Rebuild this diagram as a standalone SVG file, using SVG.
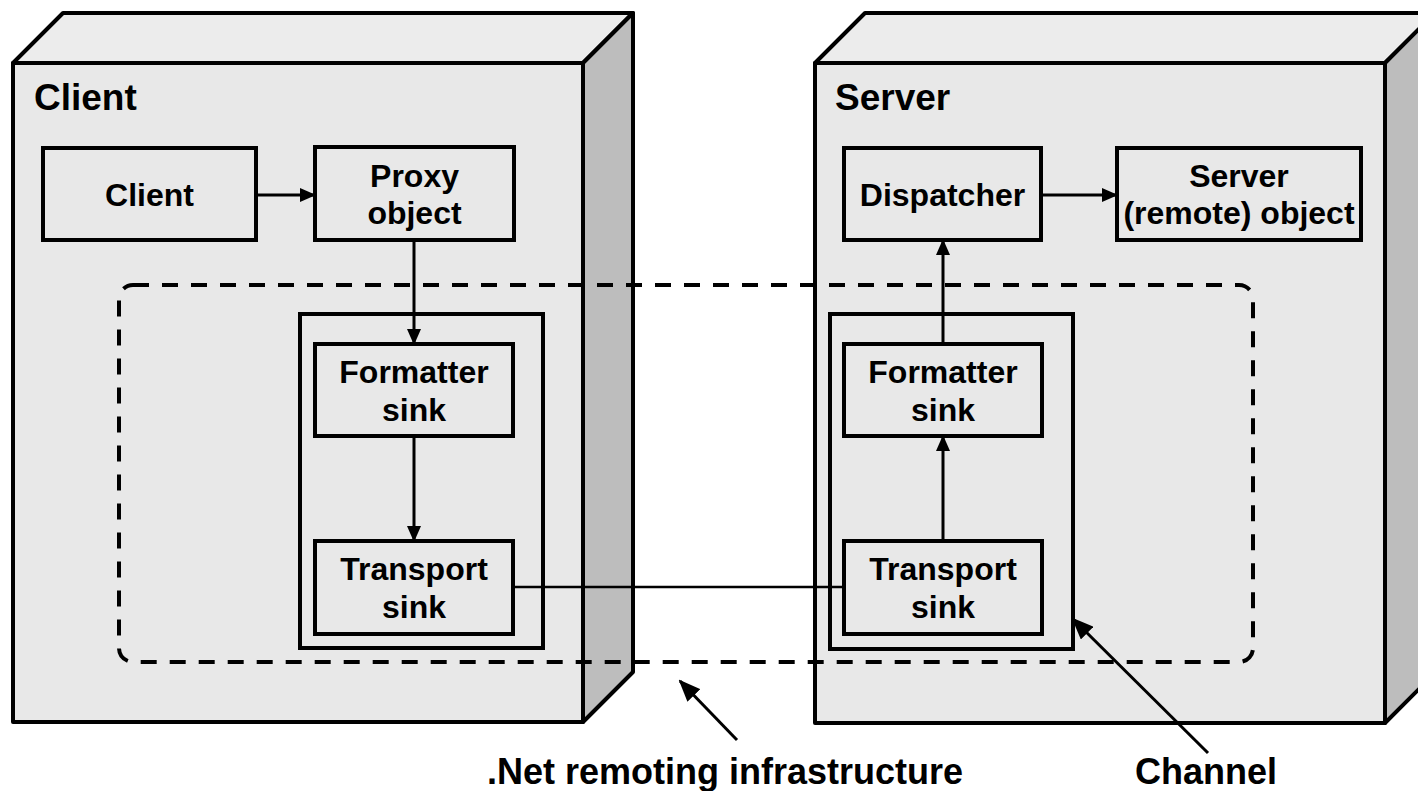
<svg xmlns="http://www.w3.org/2000/svg" width="1418" height="791" viewBox="0 0 1418 791">
<style>
.front{fill:#e8e8e8;stroke:#000;stroke-width:4;stroke-linejoin:round}
.top{fill:#ececec;stroke:#000;stroke-width:4;stroke-linejoin:round}
.side{fill:#bdbdbd;stroke:#000;stroke-width:4;stroke-linejoin:round}
.node{fill:#e8e8e8;stroke:#000;stroke-width:4}
.chan{fill:none;stroke:#000;stroke-width:4}
.t{font-family:"Liberation Sans",Arial,sans-serif;font-weight:bold;font-size:32px;fill:#000;text-anchor:middle}
.h{font-family:"Liberation Sans",Arial,sans-serif;font-weight:bold;font-size:37px;fill:#000}
.lbl{font-family:"Liberation Sans",Arial,sans-serif;font-weight:bold;font-size:36px;fill:#000;text-anchor:middle}
.c{stroke:#000;stroke-width:3;fill:none}
</style>
<defs>
<marker id="ah" markerWidth="16" markerHeight="14" refX="15" refY="7" orient="auto" markerUnits="userSpaceOnUse">
<path d="M0,0 L16,7 L0,14 Z" fill="#000"/>
</marker>
<marker id="ah2" markerWidth="22" markerHeight="18" refX="20" refY="9" orient="auto" markerUnits="userSpaceOnUse">
<path d="M0,0 L22,9 L0,18 Z" fill="#000"/>
</marker>
</defs>
<rect width="1418" height="791" fill="#fff"/>
<g id="client-host">
<polygon class="top" points="13,63 63,13 633,13 583,63"/>
<polygon class="side" points="583,63 633,13 633,672 583,722"/>
<rect class="front" x="13" y="63" width="570" height="659"/>
<text class="h" x="34" y="110">Client</text>
</g>
<g id="server-host">
<polygon class="top" points="815,63 865,13 1435,13 1385,63"/>
<polygon class="side" points="1385,63 1435,13 1435,673 1385,723"/>
<rect class="front" x="815" y="63" width="570" height="660"/>
<text class="h" x="835" y="110">Server</text>
</g>
<g id="infrastructure">
<rect x="119" y="285" width="1134" height="377" rx="14" fill="none" stroke="#000" stroke-width="4" stroke-dasharray="16 13"/>
</g>
<g id="client-channel"><rect class="chan" x="300" y="314" width="243" height="334"/></g>
<g id="server-channel"><rect class="chan" x="830" y="314" width="243" height="335"/></g>
<g id="client-node"><rect class="node" x="43" y="148" width="213" height="92"/><text class="t" x="149.5" y="206">Client</text></g>
<g id="proxy"><rect class="node" x="315" y="147" width="199" height="93"/><text class="t" x="414.5" y="187">Proxy</text><text class="t" x="414.5" y="224">object</text></g>
<g id="client-formatter"><rect class="node" x="315" y="344" width="198" height="92"/><text class="t" x="414" y="383">Formatter</text><text class="t" x="414" y="421">sink</text></g>
<g id="client-transport"><rect class="node" x="315" y="541" width="198" height="93"/><text class="t" x="414" y="580">Transport</text><text class="t" x="414" y="618">sink</text></g>
<g id="dispatcher"><rect class="node" x="844" y="148" width="197" height="92"/><text class="t" x="942.5" y="206">Dispatcher</text></g>
<g id="server-object"><rect class="node" x="1117" y="148" width="244" height="92"/><text class="t" x="1239" y="187">Server</text><text class="t" x="1239" y="224">(remote) object</text></g>
<g id="server-formatter"><rect class="node" x="844" y="344" width="198" height="92"/><text class="t" x="943" y="383">Formatter</text><text class="t" x="943" y="421">sink</text></g>
<g id="server-transport"><rect class="node" x="844" y="541" width="198" height="93"/><text class="t" x="943" y="580">Transport</text><text class="t" x="943" y="618">sink</text></g>
<g id="connectors">
<line class="c" x1="256" y1="195" x2="315" y2="195" marker-end="url(#ah)"/>
<line class="c" x1="414" y1="240" x2="414" y2="344" marker-end="url(#ah)"/>
<line class="c" x1="414" y1="436" x2="414" y2="541" marker-end="url(#ah)"/>
<line x1="513" y1="587" x2="844" y2="587" stroke="#000" stroke-width="2.5"/>
<line class="c" x1="943" y1="541" x2="943" y2="436" marker-end="url(#ah)"/>
<line class="c" x1="943" y1="344" x2="943" y2="240" marker-end="url(#ah)"/>
<line class="c" x1="1041" y1="195" x2="1117" y2="195" marker-end="url(#ah)"/>
<line class="c" x1="737" y1="740" x2="680" y2="681" marker-end="url(#ah2)"/>
<line class="c" x1="1208" y1="753" x2="1073" y2="619" marker-end="url(#ah2)"/>
</g>
<text class="lbl" x="725" y="784">.Net remoting infrastructure</text>
<text class="lbl" x="1206" y="784">Channel</text>
</svg>
